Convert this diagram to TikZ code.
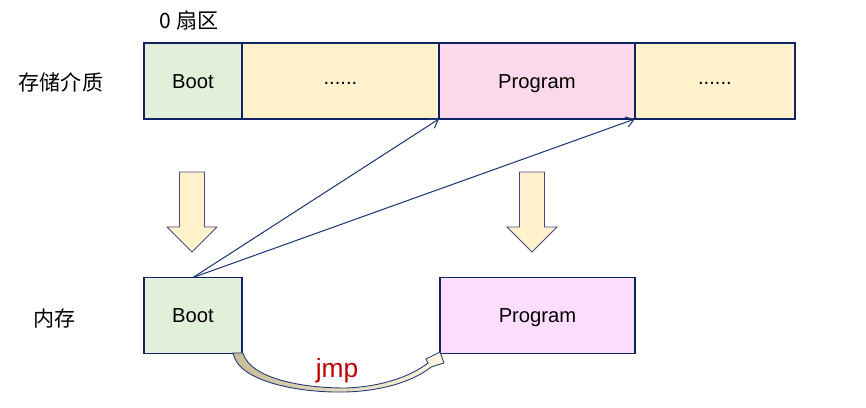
\documentclass[tikz,border=0pt]{standalone}
\usepackage{fontspec}
\setmainfont{Liberation Sans}
\newfontfamily\cjk{Noto Sans CJK SC}
\usetikzlibrary{arrows.meta,positioning}
\definecolor{bord}{HTML}{0D2363}
\definecolor{bootgreen}{HTML}{E2EFD9}
\definecolor{paleyellow}{HTML}{FFF2CC}
\definecolor{progpink}{HTML}{FCD8EA}
\definecolor{memprog}{HTML}{FFDDFF}
\definecolor{linkblue}{HTML}{1F3A78}
\definecolor{jmpred}{HTML}{C00000}
\definecolor{jmptan}{HTML}{C8BC98}

\begin{document}
\begin{tikzpicture}[x=0.02cm, y=-0.02cm,
 cell/.style={draw=bord, line width=0.7pt, minimum height=1.52cm, inner sep=0pt,
   outer sep=0pt, text height=1.6ex, text depth=0pt,
   font=\fontsize{11.5}{14}\selectfont},
 lbl/.style={font=\cjk\fontsize{12}{14}\selectfont},
 link/.style={linkblue, line width=0.6pt, -{Straight Barb[length=4.5pt,width=6pt]}},
 bigarrow/.style={fill=paleyellow, draw=gray!70!blue!80!black, line width=0.5pt},
 jmparrow/.style={left color=jmptan, right color=paleyellow!60, draw=linkblue, line width=0.5pt}]
\useasboundingbox (0,0) rectangle (866,408);
% medium de stockage
\node[cell, fill=bootgreen, minimum width=1.96cm] (boot) at (193,81) {Boot};
\node[cell, fill=paleyellow, minimum width=3.94cm, right=0pt of boot] (dotsa)
  {\raisebox{2.4pt}{......}};
\node[cell, fill=progpink, minimum width=3.92cm, right=0pt of dotsa] (prog) {Program};
\node[cell, fill=paleyellow, minimum width=3.2cm, right=0pt of prog] (dotsb)
  {\raisebox{2.4pt}{......}};
\node[lbl] (sect) at (189,20) {0 扇区};
\node[lbl] (disk) at (61,82) {存储介质};
% memoire
\node[cell, fill=bootgreen, minimum width=1.96cm] (bootm) at (193,315.5) {Boot};
\node[cell, fill=memprog, minimum width=3.9cm] (progm) at (537.5,315.5) {Program};
\node[lbl] (mem) at (55,319) {内存};
% fleches de chargement
\foreach \cx in {192,532}
  \draw[bigarrow] (\cx-12.5,172) -- (\cx+12.5,172) -- (\cx+12.5,227) -- (\cx+25,227)
    -- (\cx,252) -- (\cx-25,227) -- (\cx-12.5,227) -- cycle;
% liens
\draw[link] (bootm.north) -- (prog.south west);
\draw[link] (bootm.north) -- (dotsb.south west);
% saut
\draw[jmparrow] (233,353) .. controls (238,382) and (300,393) .. (345,392)
  .. controls (385,391) and (415,380) .. (431,367) -- (444,363) -- (440,352)
  -- (426,359) -- (428,363) .. controls (410,377) and (380,387) .. (345,388)
  .. controls (300,388) and (250,378) .. (243,353) -- cycle;
\node[font=\fontsize{15}{18}\selectfont, text=jmpred] (jmp) at (337,371) {jmp};
\end{tikzpicture}
\end{document}
